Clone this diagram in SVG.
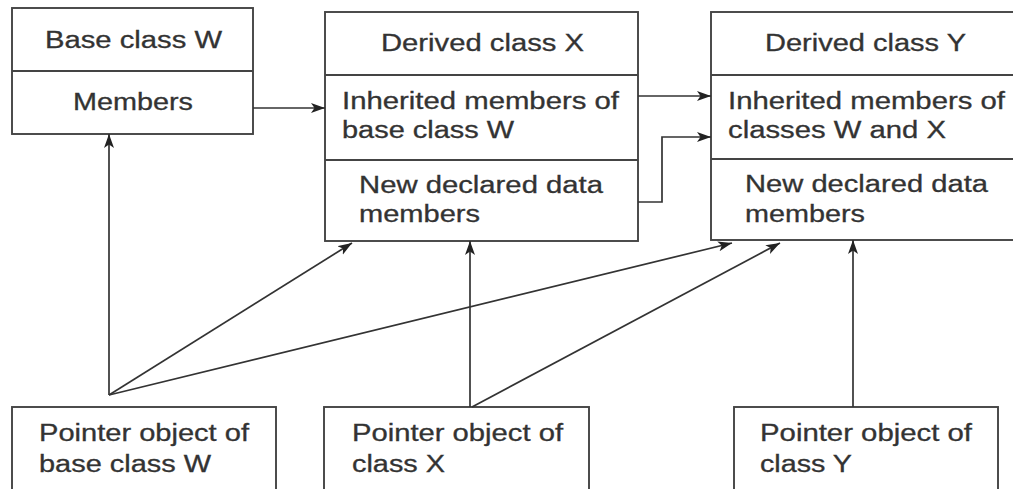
<svg xmlns="http://www.w3.org/2000/svg" width="1013" height="489" viewBox="0 0 1013 489">
<style>
.box{fill:#fff;stroke:#444;stroke-width:1.9}
.div{stroke:#444;stroke-width:1.9}
.t{font-family:"Liberation Sans",Arial,sans-serif;font-size:23px;fill:#333;stroke:#333;stroke-width:0.3}
.c{fill:none;stroke:#333;stroke-width:1.7}
</style>
<defs>
<marker id="ah" markerUnits="userSpaceOnUse" markerWidth="16" markerHeight="12" refX="14" refY="5.5" orient="auto">
<path d="M0,0.5 L14,5.5 L0,10.5 L3.5,5.5 Z" fill="#222"/>
</marker>
</defs>
<rect width="1013" height="489" fill="#fff"/>
<g id="baseW">
<rect class="box" x="12" y="8" width="241" height="126"/>
<line class="div" x1="12" y1="71" x2="253" y2="71"/>
<text class="t" x="45" y="48" textLength="177" lengthAdjust="spacingAndGlyphs">Base class W</text>
<text class="t" x="73" y="110" textLength="120" lengthAdjust="spacingAndGlyphs">Members</text>
</g>
<g id="derivedX">
<rect class="box" x="325" y="12" width="313" height="229"/>
<line class="div" x1="325" y1="75" x2="638" y2="75"/>
<line class="div" x1="325" y1="160" x2="638" y2="160"/>
<text class="t" x="381" y="51" textLength="203" lengthAdjust="spacingAndGlyphs">Derived class X</text>
<text class="t" x="342" y="109" textLength="277" lengthAdjust="spacingAndGlyphs">Inherited members of</text>
<text class="t" x="342" y="138" textLength="172" lengthAdjust="spacingAndGlyphs">base class W</text>
<text class="t" x="359" y="193" textLength="244" lengthAdjust="spacingAndGlyphs">New declared data</text>
<text class="t" x="359" y="222" textLength="121" lengthAdjust="spacingAndGlyphs">members</text>
</g>
<g id="derivedY">
<rect class="box" x="711" y="12" width="320" height="228"/>
<line class="div" x1="711" y1="75" x2="1031" y2="75"/>
<line class="div" x1="711" y1="159" x2="1031" y2="159"/>
<text class="t" x="765" y="51" textLength="201" lengthAdjust="spacingAndGlyphs">Derived class Y</text>
<text class="t" x="728" y="109" textLength="277" lengthAdjust="spacingAndGlyphs">Inherited members of</text>
<text class="t" x="728" y="138" textLength="218" lengthAdjust="spacingAndGlyphs">classes W and X</text>
<text class="t" x="745" y="192" textLength="243" lengthAdjust="spacingAndGlyphs">New declared data</text>
<text class="t" x="745" y="222" textLength="120" lengthAdjust="spacingAndGlyphs">members</text>
</g>
<g id="ptrW">
<rect class="box" x="12" y="407" width="264" height="100"/>
<text class="t" x="39" y="441" textLength="210" lengthAdjust="spacingAndGlyphs">Pointer object of</text>
<text class="t" x="39" y="472" textLength="172" lengthAdjust="spacingAndGlyphs">base class W</text>
</g>
<g id="ptrX">
<rect class="box" x="324" y="407" width="265" height="100"/>
<text class="t" x="352" y="441" textLength="211" lengthAdjust="spacingAndGlyphs">Pointer object of</text>
<text class="t" x="352" y="472" textLength="93" lengthAdjust="spacingAndGlyphs">class X</text>
</g>
<g id="ptrY">
<rect class="box" x="734" y="407" width="264" height="100"/>
<text class="t" x="760" y="441" textLength="212" lengthAdjust="spacingAndGlyphs">Pointer object of</text>
<text class="t" x="760" y="472" textLength="92" lengthAdjust="spacingAndGlyphs">class Y</text>
</g>
<g id="connectors">
<line class="c" x1="253" y1="108" x2="325" y2="108" marker-end="url(#ah)"/>
<line class="c" x1="638" y1="96" x2="711" y2="96" marker-end="url(#ah)"/>
<polyline class="c" points="638,202 662,202 662,137 711,137" marker-end="url(#ah)"/>
<line class="c" x1="109" y1="395" x2="109" y2="134" marker-end="url(#ah)"/>
<line class="c" x1="109" y1="395" x2="352" y2="243" marker-end="url(#ah)"/>
<line class="c" x1="109" y1="395" x2="732" y2="243" marker-end="url(#ah)"/>
<line class="c" x1="470" y1="407" x2="470" y2="241" marker-end="url(#ah)"/>
<line class="c" x1="472" y1="407" x2="780" y2="243" marker-end="url(#ah)"/>
<line class="c" x1="853" y1="407" x2="853" y2="240" marker-end="url(#ah)"/>
</g>
</svg>
